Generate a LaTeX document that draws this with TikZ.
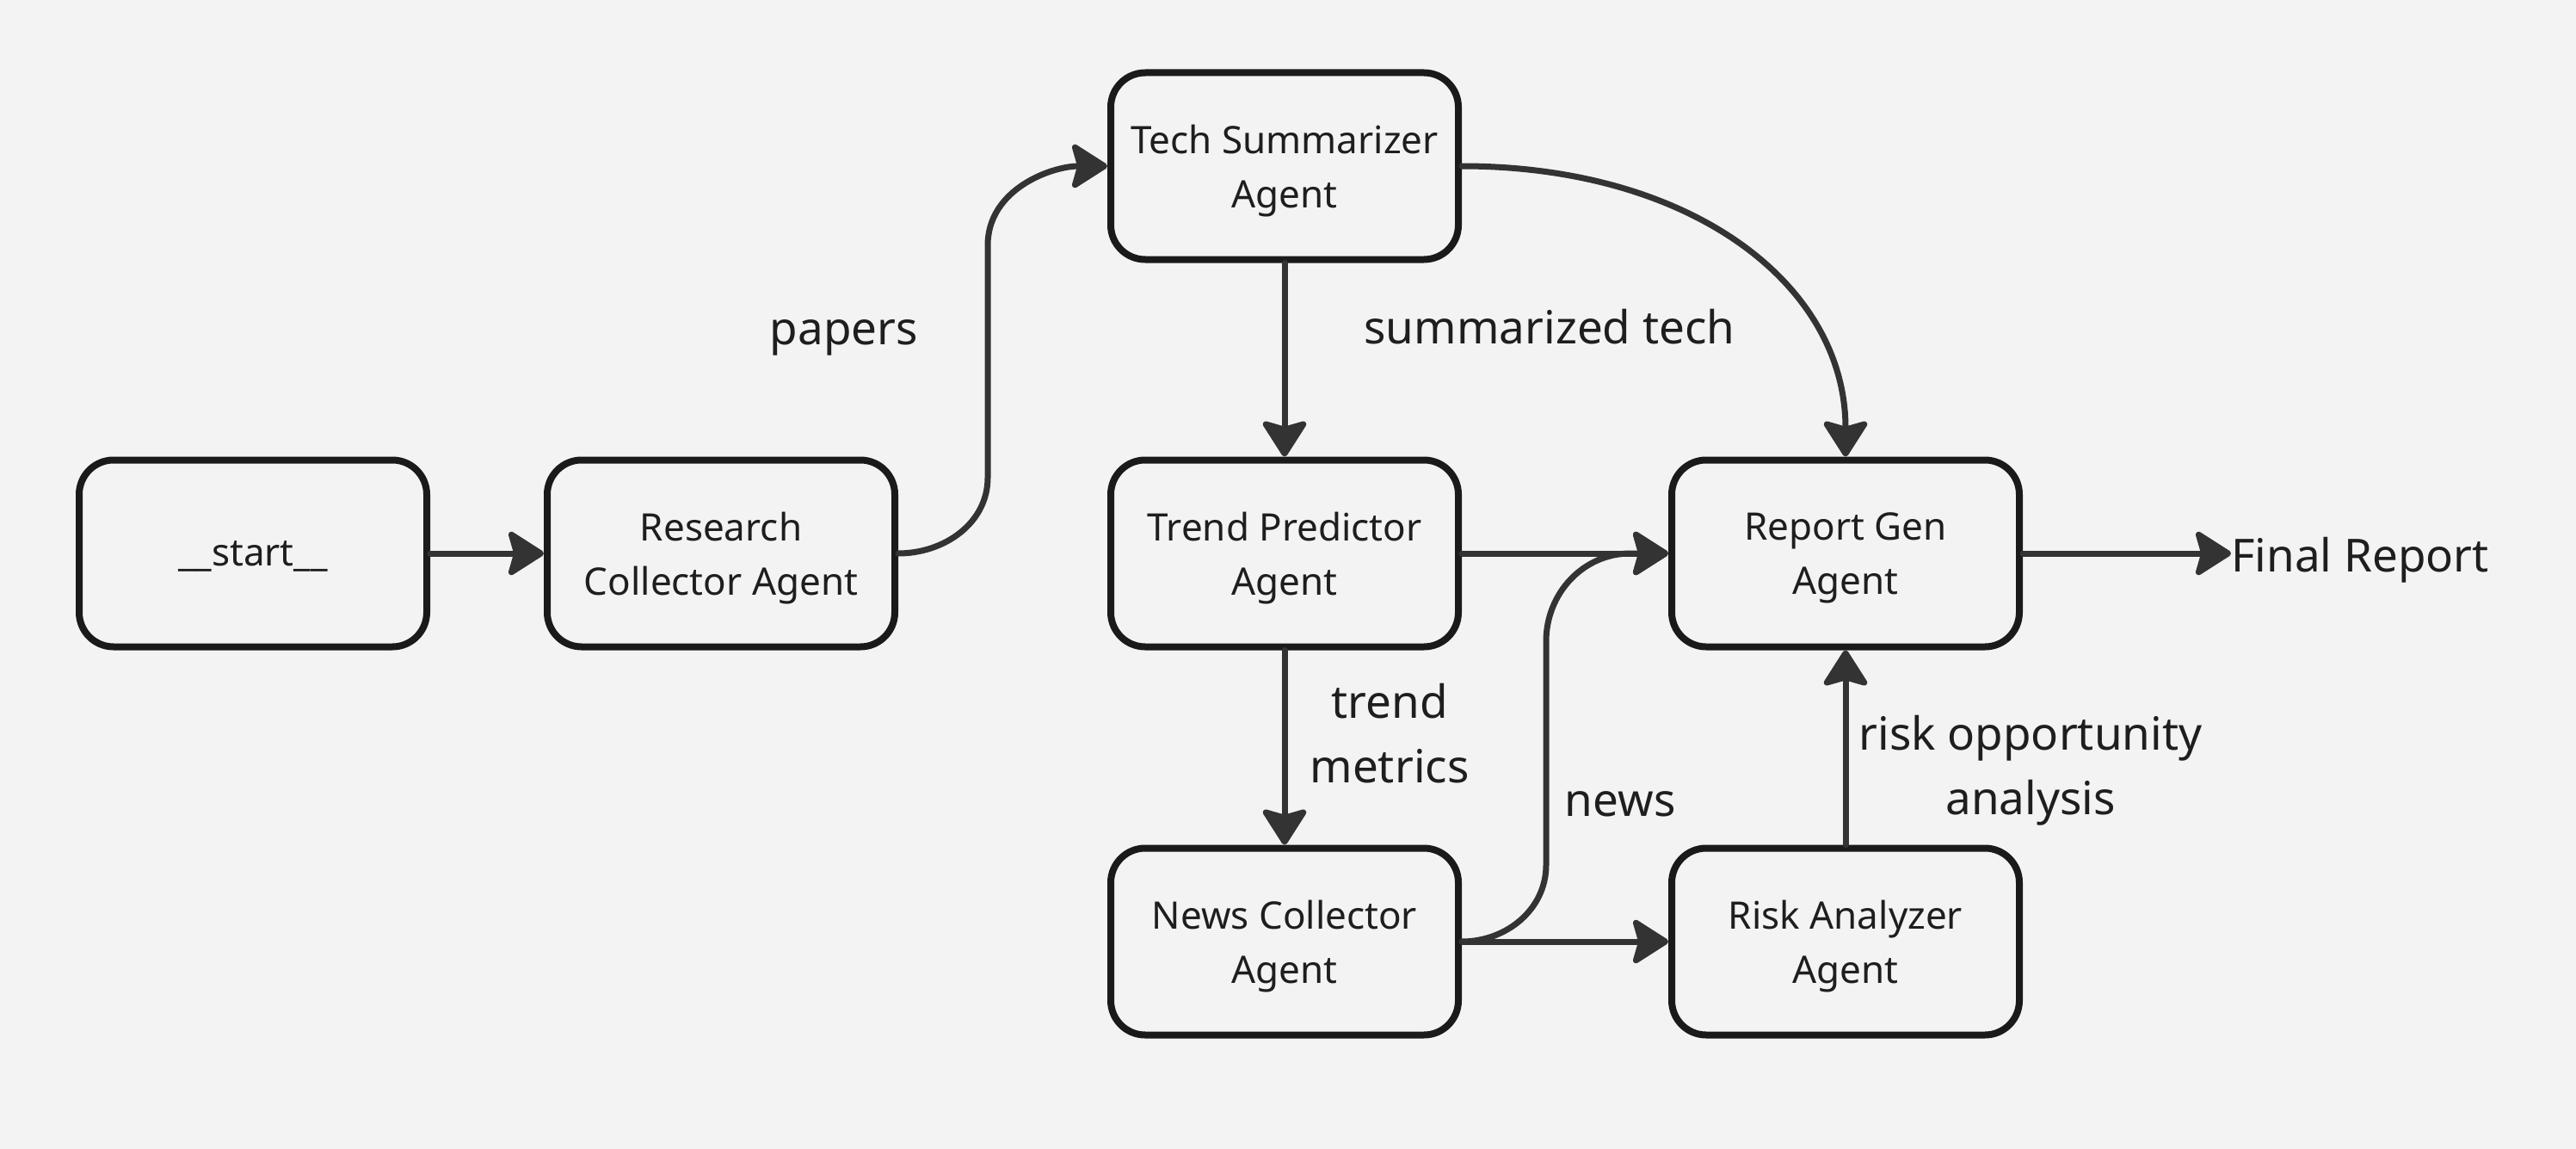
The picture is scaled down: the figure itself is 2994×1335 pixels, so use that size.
\documentclass[tikz,border=0pt]{standalone}
\usepackage{fontspec}
\setmainfont{Noto Sans}
\usetikzlibrary{arrows.meta}
\definecolor{bg}{HTML}{F3F3F3}
\definecolor{edgec}{HTML}{333333}
\definecolor{borderc}{HTML}{1A1A1A}
\definecolor{txt}{HTML}{1E1E1E}
\begin{document}
\begin{tikzpicture}[x=1pt,y=-1pt,
  box/.style={draw=borderc, line width=8pt, fill=bg, rounded corners=40pt,
    minimum width=404pt, minimum height=217pt, inner sep=0pt, align=center,
    font=\fontsize{44}{63}\selectfont, text=txt, text depth=-6pt},
  conn/.style={draw=edgec, line width=7pt, line cap=round,
    -{Stealth[length=46pt,width=58pt,inset=8pt,round]}},
  lbl/.style={font=\fontsize{53}{75}\selectfont, align=center, text=txt, inner sep=0pt}]
\useasboundingbox[fill=bg] (0,0) rectangle (2994,1335);

\node[box] (st) at (294,643) {\_\_start\_\_};
\node[box] (rc) at (838,643) {Research\\Collector Agent};
\node[box] (ts) at (1493,193) {Tech Summarizer\\Agent};
\node[box] (tp) at (1493,643) {Trend Predictor\\Agent};
\node[box] (nc) at (1493,1094) {News Collector\\Agent};
\node[box] (rg) at (2145,643) {Report Gen\\Agent};
\node[box] (ra) at (2145,1094) {Risk Analyzer\\Agent};
\node[lbl, anchor=west] (fr) at (2593,651) {Final Report};

\node[lbl] (lpapers) at (981,392) {papers};
\node[lbl] (lsum) at (1801,380) {summarized tech};
\node[lbl] (ltrend) at (1615,852) {trend\\metrics};
\node[lbl] (lnews) at (1883,934) {news};
\node[lbl] (lrisk) at (2360,895) {risk opportunity\\analysis};

\coordinate (a1) at (1148,555);
\coordinate (a2) at (1148,285);
\coordinate (b1) at (1797,1005);
\coordinate (b2) at (1797,745);
\coordinate (b3) at (1895,643);

\draw[conn] (st.east) -- (rc.west);
\draw[conn] (rc.east) to[out=0,in=-90] (a1) -- (a2) to[out=90,in=180] (ts.west);
\draw[conn] (ts.south) -- (tp.north);
\draw[conn] (ts.east) .. controls (1965,193) and (2145,330) .. (rg.north);
\draw[conn] (tp.east) -- (rg.west);
\draw[conn] (tp.south) -- (nc.north);
\draw[conn] (nc.east) to[out=0,in=-90] (b1) -- (b2) to[out=90,in=180] (b3) -- (rg.west);
\draw[conn] (nc.east) -- (ra.west);
\draw[conn] (ra.north) -- (rg.south);
\draw[conn] (rg.east) -- (rg.east -| fr.west);
\end{tikzpicture}
\end{document}
